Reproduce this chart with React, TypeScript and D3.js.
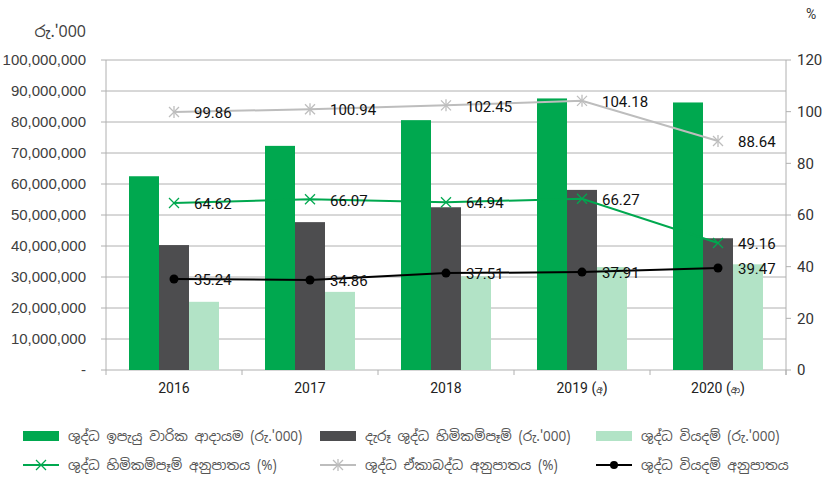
import React from 'react';
import * as d3 from 'd3';

const categories = ['2016', '2017', '2018', '2019', '2020'];
const categorySuffix = ['', '', '', 'අ', 'ආ'];

// bars, left axis (Rs. '000)
const netEarnedPremium = [62500000, 72300000, 80600000, 87600000, 86300000];
const netClaimsIncurred = [40300000, 47700000, 52500000, 58100000, 42500000];
const netExpenses = [22000000, 25200000, 30200000, 33200000, 34100000];

// lines, right axis (%)
const combinedRatio = [99.86, 100.94, 102.45, 104.18, 88.64];
const claimsRatio = [64.62, 66.07, 64.94, 66.27, 49.16];
const expenseRatio = [35.24, 34.86, 37.51, 37.91, 39.47];

const leftTicks = [0, 10000000, 20000000, 30000000, 40000000, 50000000, 60000000, 70000000, 80000000, 90000000, 100000000];
const rightTicks = [0, 20, 40, 60, 80, 100, 120];

const GREEN = '#00a84f';
const DARK = '#4d4d4f';
const LIGHT = '#b2e3c6';
const GREY_LINE = '#bdbdbd';
const AXIS = '#b0b0b0';

const numFont = 'Roboto, sans-serif';
const tickFont = '"Liberation Sans", Arial, sans-serif';
const sinFont = '"Noto Sans Sinhala", "Iskoola Pota", "Noto Sans", sans-serif';

const Cross = ({ x, y, color, star }: { x: number; y: number; color: string; star?: boolean }) => (
  <g stroke={color} strokeWidth={1.3}>
    <line x1={x - 5} y1={y - 5} x2={x + 5} y2={y + 5} />
    <line x1={x - 5} y1={y + 5} x2={x + 5} y2={y - 5} />
    {star && <line x1={x} y1={y - 6} x2={x} y2={y + 6} />}
  </g>
);

export default function App() {
  const left = 106, right = 786, top = 60, bottom = 370;

  const x = d3.scaleBand().domain(categories).range([left, right]).paddingInner(0).paddingOuter(0);
  const inner = d3.scaleBand().domain(['p', 'c', 'e']).range([23, x.bandwidth() - 23]);
  const yL = d3.scaleLinear().domain([0, 100000000]).range([bottom, top]);
  const yR = d3.scaleLinear().domain([0, 120]).range([bottom, top]);
  const fmt = d3.format(',');
  const cx = (c: string) => (x(c) as number) + x.bandwidth() / 2;

  const line = d3.line<number>().x((_, i) => cx(categories[i])).y(v => yR(v));

  const barSeries = [
    { key: 'p', values: netEarnedPremium, color: GREEN },
    { key: 'c', values: netClaimsIncurred, color: DARK },
    { key: 'e', values: netExpenses, color: LIGHT },
  ];

  const lineSeries = [
    { values: combinedRatio, color: GREY_LINE, marker: 'star' },
    { values: claimsRatio, color: GREEN, marker: 'x' },
    { values: expenseRatio, color: '#000', marker: 'dot' },
  ];

  const legend = [
    { label: "ශුද්ධ ඉපැයු වාරික ආදායම (රු.'000)", kind: 'bar', color: GREEN, x: 23, y: 436 },
    { label: "දැරූ ශුද්ධ හිමිකම්පෑම් (රු.'000)", kind: 'bar', color: DARK, x: 320, y: 436 },
    { label: "ශුද්ධ වියදම් (රු.'000)", kind: 'bar', color: LIGHT, x: 596, y: 436 },
    { label: 'ශුද්ධ හිමිකම්පෑම් අනුපාතය (%)', kind: 'x', color: GREEN, x: 23, y: 465 },
    { label: 'ශුද්ධ ඒකාබද්ධ අනුපාතය (%)', kind: 'star', color: GREY_LINE, x: 320, y: 465 },
    { label: 'ශුද්ධ වියදම් අනුපාතය', kind: 'dot', color: '#000', x: 596, y: 465 },
  ];

  return (
    <svg width={832} height={477} style={{ position: 'absolute', left: 0, top: 0, background: '#fff' }}>
      {/* gridlines */}
      {leftTicks.map(t => (
        <line key={t} x1={101} x2={right} y1={yL(t)} y2={yL(t)} stroke={AXIS} strokeWidth={1} />
      ))}
      {/* axes */}
      <line x1={left} x2={left} y1={top} y2={bottom + 5} stroke={AXIS} />
      <line x1={right} x2={right} y1={top} y2={bottom + 5} stroke={AXIS} />
      {rightTicks.map(t => (
        <line key={t} x1={right} x2={right + 5} y1={yR(t)} y2={yR(t)} stroke={AXIS} />
      ))}
      {categories.map(c => (
        <line key={c} x1={(x(c) as number) + x.bandwidth()} x2={(x(c) as number) + x.bandwidth()} y1={bottom} y2={bottom + 5} stroke={AXIS} />
      ))}

      {/* left tick labels */}
      {leftTicks.map(t => (
        <text key={t} x={86} y={yL(t)} dy="0.35em" textAnchor="end" fontFamily={tickFont} fontSize={15} fill="#404040">
          {t === 0 ? '-' : fmt(t)}
        </text>
      ))}
      {/* right tick labels */}
      {rightTicks.map(t => (
        <text key={t} x={797} y={yR(t)} dy="0.35em" fontFamily={numFont} fontSize={15} fill="#333">
          {t}
        </text>
      ))}
      <text x={86} y={31} dy="0.35em" textAnchor="end" fontFamily={sinFont} fontSize={16} fill="#404040">රු.'000</text>
      <text x={806} y={14} dy="0.35em" fontFamily={numFont} fontSize={14} fill="#333">%</text>

      {/* category labels */}
      {categories.map((c, i) => (
        <text key={c} x={cx(c)} y={388} dy="0.35em" textAnchor="middle" fontFamily={numFont} fontSize={14} fill="#222">
          {c}
          {categorySuffix[i] && (
            <tspan>
              {' ('}
              <tspan fontFamily={sinFont} fontSize={9}>{categorySuffix[i]}</tspan>
              {')'}
            </tspan>
          )}
        </text>
      ))}

      {/* bars */}
      {barSeries.map(s =>
        s.values.map((v, i) => (
          <rect
            key={s.key + i}
            x={(x(categories[i]) as number) + (inner(s.key) as number)}
            y={yL(v)}
            width={inner.bandwidth()}
            height={bottom - yL(v)}
            fill={s.color}
          />
        ))
      )}

      {/* lines */}
      {lineSeries.map((s, k) => (
        <g key={k}>
          <path d={line(s.values) || ''} fill="none" stroke={s.color} strokeWidth={2} />
          {s.values.map((v, i) => {
            const px = cx(categories[i]);
            const py = yR(v);
            return (
              <g key={i}>
                {s.marker === 'dot' ? (
                  <circle cx={px} cy={py} r={4.5} fill="#000" />
                ) : (
                  <Cross x={px} y={py} color={s.color} star={s.marker === 'star'} />
                )}
                <text x={px + 20} y={py + 1} dy="0.35em" fontFamily={numFont} fontSize={15} fill="#111">
                  {v.toFixed(2)}
                </text>
              </g>
            );
          })}
        </g>
      ))}

      {/* legend */}
      {legend.map((l, i) => (
        <g key={i}>
          {l.kind === 'bar' ? (
            <rect x={l.x} y={l.y - 5} width={36} height={10} fill={l.color} />
          ) : (
            <g>
              <line x1={l.x} x2={l.x + 36} y1={l.y} y2={l.y} stroke={l.color} strokeWidth={2} />
              {l.kind === 'dot' ? (
                <circle cx={l.x + 18} cy={l.y} r={4} fill="#000" />
              ) : (
                <Cross x={l.x + 18} y={l.y} color={l.color} star={l.kind === 'star'} />
              )}
            </g>
          )}
          <text x={l.x + 45} y={l.y} dy="0.35em" fontFamily={sinFont} fontSize={13.5} fill="#555">
            {l.label}
          </text>
        </g>
      ))}
    </svg>
  );
}
